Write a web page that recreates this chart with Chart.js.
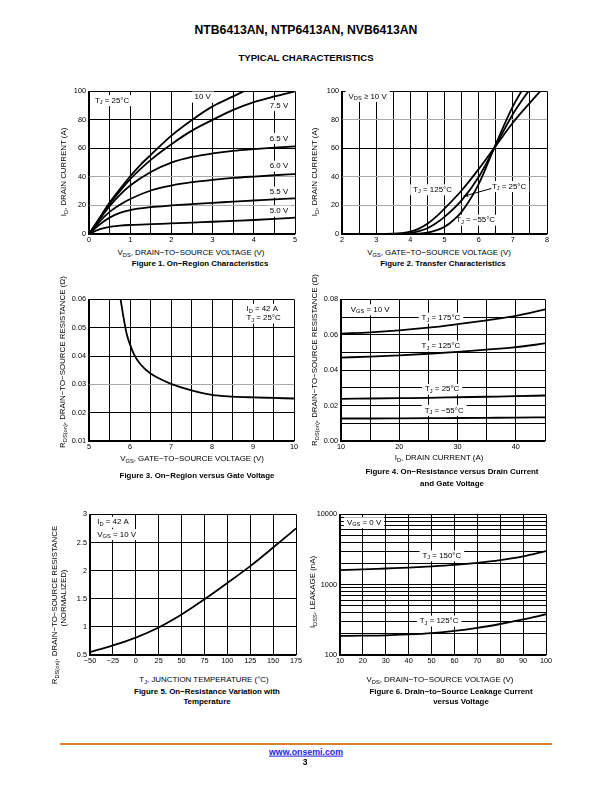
<!DOCTYPE html>
<html>
<head>
<meta charset="utf-8">
<script src="https://cdn.jsdelivr.net/npm/chart.js@4.4.1/dist/chart.umd.min.js"></script>
<style>
  body { margin: 0; width: 612px; height: 792px; background: #fff; position: relative;
         font-family: "Liberation Sans", Arial, sans-serif; color: #000; overflow: hidden; }
  canvas { position: absolute; }
  .t { position: absolute; white-space: nowrap; transform: translate(-50%, -50%); line-height: 1; font-size: 7.9px; }
  .r { transform: translate(-50%, -50%) rotate(-90deg); }
  .b { font-weight: bold; }
  .cap { font-weight: bold; font-size: 7.9px; }
  sub { font-size: 72%; vertical-align: -0.3em; line-height: 0; }
</style>
</head>
<body>

<div class="t b" style="left:306px;top:30px;font-size:12.2px">NTB6413AN, NTP6413AN, NVB6413AN</div>
<div class="t b" style="left:306px;top:58px;font-size:9.6px">TYPICAL CHARACTERISTICS</div>

<canvas id="fig1"></canvas>
<canvas id="fig2"></canvas>
<canvas id="fig3"></canvas>
<canvas id="fig4"></canvas>
<canvas id="fig5"></canvas>
<canvas id="fig6"></canvas>

<!-- axis titles and captions -->
<div class="t r" style="left:64px;top:172px">I<sub>D</sub>, DRAIN CURRENT (A)</div>
<div class="t" style="left:191px;top:253px">V<sub>DS</sub>, DRAIN−TO−SOURCE VOLTAGE (V)</div>
<div class="t cap" style="left:200px;top:264px">Figure 1. On−Region Characteristics</div>

<div class="t r" style="left:315px;top:172px">I<sub>D</sub>, DRAIN CURRENT (A)</div>
<div class="t" style="left:439px;top:253px">V<sub>GS</sub>, GATE−TO−SOURCE VOLTAGE (V)</div>
<div class="t cap" style="left:443px;top:264px">Figure 2. Transfer Characteristics</div>

<div class="t r" style="left:63px;top:362px">R<sub>DS(on)</sub>, DRAIN−TO−SOURCE RESISTANCE (Ω)</div>
<div class="t" style="left:192px;top:459px">V<sub>GS</sub>, GATE−TO−SOURCE VOLTAGE (V)</div>
<div class="t cap" style="left:197px;top:476px">Figure 3. On−Region versus Gate Voltage</div>

<div class="t r" style="left:315px;top:360px">R<sub>DS(on)</sub>, DRAIN−TO−SOURCE RESISTANCE (Ω)</div>
<div class="t" style="left:439px;top:458px">I<sub>D</sub>, DRAIN CURRENT (A)</div>
<div class="t cap" style="left:452px;top:472px">Figure 4. On−Resistance versus Drain Current</div>
<div class="t cap" style="left:452px;top:484px">and Gate Voltage</div>

<div class="t r" style="left:55px;top:605px">R<sub>DS(on)</sub>, DRAIN−TO−SOURCE RESISTANCE</div>
<div class="t r" style="left:63.5px;top:598px">(NORMALIZED)</div>
<div class="t" style="left:204px;top:680px">T<sub>J</sub>, JUNCTION TEMPERATURE (°C)</div>
<div class="t cap" style="left:207px;top:692px">Figure 5. On−Resistance Variation with</div>
<div class="t cap" style="left:207px;top:702px">Temperature</div>

<div class="t r" style="left:313px;top:592px">I<sub>DSS</sub>, LEAKAGE (nA)</div>
<div class="t" style="left:440px;top:680px">V<sub>DS</sub>, DRAIN−TO−SOURCE VOLTAGE (V)</div>
<div class="t cap" style="left:451px;top:692px">Figure 6. Drain−to−Source Leakage Current</div>
<div class="t cap" style="left:461px;top:702px">versus Voltage</div>

<div style="position:absolute;left:60px;top:742.5px;width:492px;height:2.5px;background:#d9822b"></div>
<div class="t b" style="left:306px;top:752px;font-size:8.8px;color:#1f1fe6;text-decoration:underline">www.onsemi.com</div>
<div class="t b" style="left:305px;top:762px;font-size:8.5px">3</div>

<script>
// ---- Figure 1: on-region characteristics, I_D vs V_DS per gate voltage
const fig1XGrid = [0, 0.5, 1, 1.5, 2, 2.5, 3, 3.5, 4, 4.5, 5];
const fig1XLabels = [0, 1, 2, 3, 4, 5];
const fig1YGrid = [0, 20, 40, 60, 80, 100];
const fig1Vgs10 = [[0, 0], [0.25, 11], [0.5, 22], [0.75, 31.5], [1, 40.5], [1.25, 48.5], [1.5, 55.5], [2, 69], [2.5, 80], [3, 89.5], [3.5, 96.5], [3.75, 100]];
const fig1Vgs75 = [[0, 0], [0.25, 10.5], [0.5, 21], [0.75, 30], [1, 38.5], [1.5, 52], [2, 63], [2.5, 72.5], [3, 80], [3.5, 87], [4, 92.5], [4.5, 96.5], [5, 100]];
const fig1Vgs65 = [[0, 0], [0.25, 10], [0.5, 19.5], [0.75, 27.5], [1, 34], [1.5, 43.5], [2, 50], [2.5, 54], [3, 56.5], [3.5, 58.3], [4, 59.5], [4.5, 60.5], [5, 61.5]];
const fig1Vgs60 = [[0, 0], [0.25, 8.5], [0.5, 15.5], [0.75, 20.5], [1, 24.5], [1.5, 30.5], [2, 34], [2.5, 36.3], [3, 38], [3.5, 39.3], [4, 40.3], [4.5, 41.2], [5, 42]];
const fig1Vgs55 = [[0, 0], [0.25, 6.5], [0.5, 11.5], [0.75, 14.8], [1, 16.8], [1.5, 18.8], [2, 20], [2.5, 21], [3, 21.8], [3.5, 22.7], [4, 23.5], [4.5, 24.3], [5, 25]];
const fig1Vgs50 = [[0, 0], [0.15, 2], [0.25, 3.3], [0.5, 5], [0.75, 5.8], [1, 6.3], [1.5, 6.9], [2, 7.4], [2.5, 8], [3, 8.6], [3.5, 9.2], [4, 9.8], [4.5, 10.6], [5, 11.5]];

// ---- Figure 2: transfer characteristics, I_D vs V_GS per junction temperature
const fig2XGrid = [2, 2.5, 3, 3.5, 4, 4.5, 5, 5.5, 6, 6.5, 7, 7.5, 8];
const fig2XLabels = [2, 3, 4, 5, 6, 7, 8];
const fig2YGrid = [0, 20, 40, 60, 80, 100];
const fig2Tj125 = [[2, 0], [3, 0], [3.5, 0.2], [3.75, 0.6], [4, 1.6], [4.25, 3.8], [4.5, 7.2], [4.75, 12], [5, 17.8], [5.5, 30.5], [6, 45.5], [6.5, 61.8], [7, 78], [7.5, 92], [7.8, 100]];
const fig2Tj25 = [[2, 0], [3.5, 0], [3.75, 0.2], [4, 0.6], [4.25, 2], [4.5, 4], [4.75, 7.5], [5, 12], [5.5, 23.6], [6, 40], [6.5, 62], [7, 84], [7.45, 100]];
const fig2TjM55 = [[2, 0], [4, 0], [4.25, 0.3], [4.5, 1], [4.75, 2.5], [5, 5], [5.25, 9.5], [5.5, 15.5], [6, 35], [6.5, 63], [7, 89.5], [7.25, 100]];

// ---- Figure 3: R_DS(on) vs V_GS
const fig3XGrid = [5, 5.5, 6, 6.5, 7, 7.5, 8, 8.5, 9, 9.5, 10];
const fig3XLabels = [5, 6, 7, 8, 9, 10];
const fig3YGrid = [0.01, 0.02, 0.03, 0.04, 0.05, 0.06];
const fig3Rds = [[5.77, 0.06], [5.85, 0.053], [5.92, 0.0478], [6, 0.0441], [6.1, 0.0405], [6.25, 0.0372], [6.5, 0.0338], [6.75, 0.0318], [7, 0.0302], [7.5, 0.0279], [8, 0.0263], [8.5, 0.0257], [9, 0.0254], [9.5, 0.0252], [10, 0.025]];

// ---- Figure 4: R_DS(on) vs I_D per junction temperature
const fig4XGrid = [10, 15, 20, 25, 30, 35, 40, 45];
const fig4XLabels = [10, 20, 30, 40];
const fig4YGrid = [0, 0.01, 0.02, 0.03, 0.04, 0.05, 0.06, 0.07, 0.08];
const fig4YLabels = [0, 0.02, 0.04, 0.06, 0.08];
const fig4Id = [10, 15, 20, 25, 30, 35, 40, 45];
const fig4Tj175 = [0.0607, 0.0614, 0.0625, 0.064, 0.066, 0.0682, 0.0707, 0.0744];
const fig4Tj125 = [0.0471, 0.0477, 0.0484, 0.0493, 0.0504, 0.0516, 0.053, 0.0551];
const fig4Tj25 = [0.0238, 0.024, 0.0242, 0.0244, 0.0247, 0.025, 0.0253, 0.0257];
const fig4TjM55 = [0.0127, 0.0127, 0.0128, 0.0129, 0.013, 0.0131, 0.0132, 0.0134];

// ---- Figure 5: normalized R_DS(on) vs T_J
const fig5XGrid = [-50, -25, 0, 25, 50, 75, 100, 125, 150, 175];
const fig5YGrid = [0.5, 1, 1.5, 2, 2.5, 3];
const fig5Tj = [-50, -25, 0, 25, 50, 75, 100, 125, 150, 175];
const fig5Rnorm = [0.55, 0.67, 0.81, 0.99, 1.22, 1.49, 1.78, 2.08, 2.41, 2.75];

// ---- Figure 6: I_DSS leakage vs V_DS (log axis)
const fig6XGrid = [10, 20, 30, 40, 50, 60, 70, 80, 90, 100];
const fig6YGrid = [100, 200, 300, 400, 500, 600, 700, 800, 900, 1000, 2000, 3000, 4000, 5000, 6000, 7000, 8000, 9000, 10000];
const fig6YLabels = [100, 1000, 10000];
const fig6Vds = [10, 20, 30, 40, 50, 60, 70, 80, 90, 100];
const fig6Tj150 = [1610, 1650, 1700, 1750, 1820, 1910, 2040, 2230, 2520, 3000];
const fig6Tj125 = [187, 188, 190, 196, 205, 220, 243, 276, 320, 380];

const FONT = '"Liberation Sans", Arial, sans-serif';
const zip = (xs, ys) => xs.map((x, i) => [x, ys[i]]);
const plain = (v) => String(v);
const minus = (v) => (v < 0 ? "−" + -v : String(v));

// "T_{J} = 25°C" -> [{s:"T"}, {s:"J", sub:true}, {s:" = 25°C"}]
function richParts(str) {
  const out = [];
  const re = /_\{([^}]*)\}/g;
  let last = 0, m;
  while ((m = re.exec(str))) {
    if (m.index > last) out.push({ s: str.slice(last, m.index) });
    out.push({ s: m[1], sub: true });
    last = re.lastIndex;
  }
  if (last < str.length) out.push({ s: str.slice(last) });
  return out;
}

const NOTE_SIZE = 7.9;
const SUB_SIZE = 5.7;

function richWidth(ctx, parts) {
  let w = 0;
  for (const p of parts) {
    ctx.font = `${p.sub ? SUB_SIZE : NOTE_SIZE}px ${FONT}`;
    w += ctx.measureText(p.s).width;
  }
  return w;
}

// Boxed text labels (white box breaks the grid) plus optional arrows, anchored in data units.
function notesPlugin(notes, arrows = []) {
  const place = (chart, n) => {
    const ctx = chart.ctx;
    const parts = richParts(n.text);
    const w = richWidth(ctx, parts);
    const px = chart.scales.x.getPixelForValue(n.x);
    const py = chart.scales.y.getPixelForValue(n.y);
    const left = n.align === "left" ? px : px - w / 2;
    return { parts, w, left, py };
  };
  return {
    id: "notes",
    beforeDatasetsDraw(chart) {
      const ctx = chart.ctx;
      ctx.save();
      ctx.fillStyle = "#fff";
      for (const n of notes) {
        const p = place(chart, n);
        ctx.fillRect(p.left - 3, p.py - 5.5, p.w + 6, 11);
      }
      ctx.restore();
    },
    afterDatasetsDraw(chart) {
      const ctx = chart.ctx;
      ctx.save();
      ctx.fillStyle = "#000";
      ctx.textBaseline = "middle";
      ctx.textAlign = "left";
      for (const n of notes) {
        const p = place(chart, n);
        let x = p.left;
        for (const part of p.parts) {
          ctx.font = `${part.sub ? SUB_SIZE : NOTE_SIZE}px ${FONT}`;
          ctx.fillText(part.s, x, part.sub ? p.py + 2 : p.py);
          x += ctx.measureText(part.s).width;
        }
      }
      ctx.strokeStyle = "#000";
      ctx.lineWidth = 1;
      for (const a of arrows) {
        const x1 = chart.scales.x.getPixelForValue(a[0][0]);
        const y1 = chart.scales.y.getPixelForValue(a[0][1]);
        const x2 = chart.scales.x.getPixelForValue(a[1][0]);
        const y2 = chart.scales.y.getPixelForValue(a[1][1]);
        const ang = Math.atan2(y2 - y1, x2 - x1);
        ctx.beginPath();
        ctx.moveTo(x1, y1);
        ctx.lineTo(x2, y2);
        ctx.stroke();
        ctx.beginPath();
        ctx.moveTo(x2, y2);
        ctx.lineTo(x2 - 5 * Math.cos(ang - 0.35), y2 - 5 * Math.sin(ang - 0.35));
        ctx.lineTo(x2 - 5 * Math.cos(ang + 0.35), y2 - 5 * Math.sin(ang + 0.35));
        ctx.closePath();
        ctx.fill();
      }
      ctx.restore();
    },
  };
}

// One axis with an explicit grid (every grid value is a tick) and a subset of labelled ticks.
function axis(a, isX, size) {
  const gray = a.gray || [];
  return {
    type: a.log ? "logarithmic" : "linear",
    min: a.grid[0],
    max: a.grid[a.grid.length - 1],
    afterFit: (s) => { if (isX) s.height = size; else s.width = size; },
    afterBuildTicks: (s) => { s.ticks = a.grid.map((v) => ({ value: v })); },
    ticks: {
      autoSkip: false,
      maxRotation: 0,
      padding: isX ? 2 : 3,
      color: "#000",
      font: { family: FONT, size: 7.3 },
      callback: (v) => ((a.labels || a.grid).includes(v) ? (a.fmt || plain)(v) : ""),
    },
    grid: {
      color: (ctx) => (ctx.tick && gray.includes(ctx.tick.value) ? "#a8a8a8" : "#000"),
      lineWidth: 1,
      drawTicks: false,
    },
    border: { color: "#000", width: 1.2 },
  };
}

// box = plot-area edges in page pixels; the canvas is sized so the chart area lands there.
function plot(id, box, cfg) {
  const yw = 34, xh = 14, pt = 6, pr = 12;
  const cv = document.getElementById(id);
  const w = box.r - box.l + yw + pr;
  const h = box.b - box.t + pt + xh;
  cv.width = w; cv.height = h;
  cv.style.width = w + "px"; cv.style.height = h + "px";
  cv.style.left = box.l - yw + "px"; cv.style.top = box.t - pt + "px";
  return new Chart(cv.getContext("2d"), {
    type: "scatter",
    data: {
      datasets: cfg.series.map((s) => ({
        data: s.map(([x, y]) => ({ x, y })),
        showLine: true,
        borderColor: "#000",
        borderWidth: 1.8,
        pointRadius: 0,
        cubicInterpolationMode: "monotone",
      })),
    },
    options: {
      responsive: false,
      animation: false,
      devicePixelRatio: 1,
      layout: { padding: { top: pt, right: pr, left: 0, bottom: 0 } },
      plugins: { legend: { display: false }, tooltip: { enabled: false } },
      scales: { x: axis(cfg.x, true, xh), y: axis(cfg.y, false, yw) },
    },
    plugins: [notesPlugin(cfg.notes || [], cfg.arrows || [])],
  });
}

plot("fig1", { l: 89, r: 295, t: 90, b: 234 }, {
  series: [fig1Vgs10, fig1Vgs75, fig1Vgs65, fig1Vgs60, fig1Vgs55, fig1Vgs50],
  x: { grid: fig1XGrid, labels: fig1XLabels },
  y: { grid: fig1YGrid, gray: [20, 40] },
  notes: [
    { x: 0.56, y: 93.5, text: "T_{J} = 25°C" },
    { x: 2.76, y: 96, text: "10 V" },
    { x: 4.61, y: 90, text: "7.5 V" },
    { x: 4.61, y: 67, text: "6.5 V" },
    { x: 4.61, y: 47.5, text: "6.0 V" },
    { x: 4.61, y: 29.4, text: "5.5 V" },
    { x: 4.61, y: 16, text: "5.0 V" },
  ],
});

plot("fig2", { l: 342, r: 547, t: 90, b: 234 }, {
  series: [fig2Tj125, fig2Tj25, fig2TjM55],
  x: { grid: fig2XGrid, labels: fig2XLabels },
  y: { grid: fig2YGrid, gray: [20, 40, 80] },
  notes: [
    { x: 2.75, y: 96.5, text: "V_{DS} ≥ 10 V" },
    { x: 4.65, y: 31, text: "T_{J} = 125°C" },
    { x: 6.89, y: 33.3, text: "T_{J} = 25°C" },
    { x: 5.91, y: 9.7, text: "T_{J} = −55°C" },
  ],
  arrows: [[[6.37, 31.9], [5.55, 26.4]]],
});

plot("fig3", { l: 89, r: 294, t: 298, b: 441 }, {
  series: [fig3Rds],
  x: { grid: fig3XGrid, labels: fig3XLabels },
  y: { grid: fig3YGrid, gray: [0.03], fmt: (v) => v.toFixed(2) },
  notes: [
    { x: 8.84, y: 0.0565, text: "I_{D} = 42 A", align: "left" },
    { x: 8.84, y: 0.0534, text: "T_{J} = 25°C", align: "left" },
  ],
});

plot("fig4", { l: 341, r: 545, t: 298, b: 441 }, {
  series: [zip(fig4Id, fig4Tj175), zip(fig4Id, fig4Tj125), zip(fig4Id, fig4Tj25), zip(fig4Id, fig4TjM55)],
  x: { grid: fig4XGrid, labels: fig4XLabels },
  y: { grid: fig4YGrid, labels: fig4YLabels, fmt: (v) => v.toFixed(2) },
  notes: [
    { x: 15, y: 0.0741, text: "V_{GS} = 10 V" },
    { x: 27.15, y: 0.0694, text: "T_{J} = 175°C" },
    { x: 27.15, y: 0.0536, text: "T_{J} = 125°C" },
    { x: 27.35, y: 0.0292, text: "T_{J} = 25°C" },
    { x: 27.7, y: 0.0173, text: "T_{J} = −55°C" },
  ],
});

plot("fig5", { l: 90, r: 296, t: 513, b: 655 }, {
  series: [zip(fig5Tj, fig5Rnorm)],
  x: { grid: fig5XGrid, fmt: minus },
  y: { grid: fig5YGrid },
  notes: [
    { x: -42, y: 2.86, text: "I_{D} = 42 A", align: "left" },
    { x: -42, y: 2.64, text: "V_{GS} = 10 V", align: "left" },
  ],
});

plot("fig6", { l: 340, r: 546, t: 513, b: 655 }, {
  series: [zip(fig6Vds, fig6Tj150), zip(fig6Vds, fig6Tj125)],
  x: { grid: fig6XGrid },
  y: { grid: fig6YGrid, labels: fig6YLabels, log: true },
  notes: [
    { x: 20.5, y: 7600, text: "V_{GS} = 0 V" },
    { x: 54.5, y: 2570, text: "T_{J} = 150°C" },
    { x: 53.3, y: 303, text: "T_{J} = 125°C" },
  ],
});
</script>
</body>
</html>
